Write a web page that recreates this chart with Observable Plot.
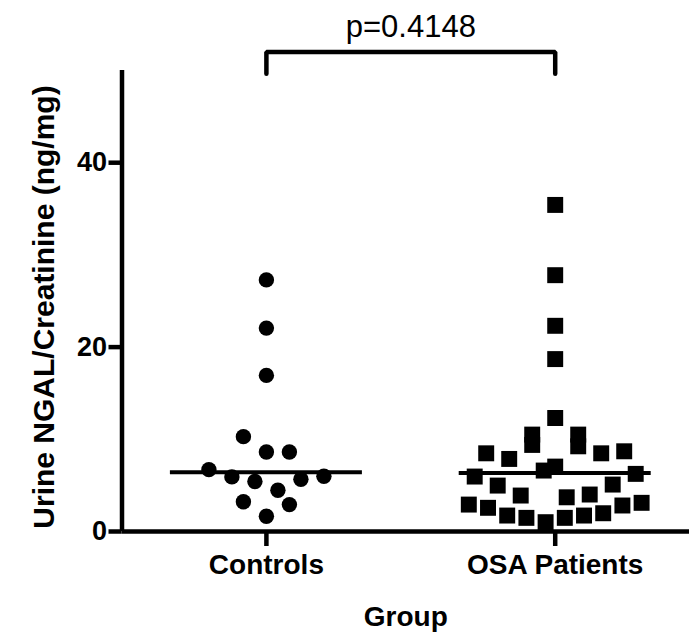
<!DOCTYPE html>
<html>
<head>
<meta charset="utf-8">
<script src="https://cdn.jsdelivr.net/npm/d3@7"></script>
<script src="https://cdn.jsdelivr.net/npm/@observablehq/plot@0.6"></script>
<style>
  html, body { margin: 0; padding: 0; background: #fff; }
</style>
</head>
<body>
<div id="chart"></div>
<script>
// ---------- data ----------
const groups = ["Controls", "OSA Patients"];
const controls = [3.22, 1.66, 2.92, 6.71, 5.92, 5.42, 4.47, 5.66, 5.99, 10.29, 8.63, 8.63, 16.93, 22.06, 27.29];
const osa = [
  2.92, 2.57, 1.73, 1.48, 1.01, 1.48, 1.73, 1.98, 2.82, 3.11,
  5.96, 4.98, 3.90, 6.61, 3.71, 4.01, 5.09, 6.25,
  8.48, 7.87, 9.39, 7.04, 9.24, 8.48, 8.70,
  10.51, 12.31, 10.51,
  18.70, 22.31, 27.80, 35.42
];
const medians = [6.42, 6.35];
const yTicks = [0, 20, 40];
const pValue = "p=0.4148";
const yLabel = "Urine NGAL/Creatinine (ng/mg)";
const xLabel = "Group";

// ---------- layout ----------
const W = 689, H = 639;
const mL = 121.5, mR = 0, mT = 70, mB = 108;
const xDomain = [-0.5, 1.465], yDomain = [0, 50];
const pxPerX = (W - mL - mR) / (xDomain[1] - xDomain[0]);
const rowHeight = 3.5;      // data units per scatter row
const maxStep = 23;         // px between neighbours in a row
const colWidth = 192;       // px width of a column (and of the median line)
const font = "'Liberation Sans', Arial, Helvetica, sans-serif";

// column-scatter layout: points grouped into rows, spread symmetrically
function scatter(values, gi) {
  const rows = d3.group(values, v => Math.floor(v / rowHeight));
  const out = [];
  for (const row of rows.values()) {
    const n = row.length;
    const step = Math.min(maxStep, colWidth / n);
    row.forEach((v, j) => out.push({
      group: groups[gi], value: v,
      x: gi + (j - (n - 1) / 2) * step / pxPerX
    }));
  }
  return out;
}
const ctrlPts = scatter(controls, 0);
const osaPts = scatter(osa, 1);
const medData = medians.map((m, i) => ({i, m}));
const half = colWidth / 2 / pxPerX;

const bracketTop = yDomain[1] + 2;
const bracket = [
  {x: 0, y: yDomain[1] - 0.35},
  {x: 0, y: bracketTop},
  {x: 1, y: bracketTop},
  {x: 1, y: yDomain[1] - 0.35}
];

const SW = 4.5;

const chart = Plot.plot({
  width: W, height: H,
  marginLeft: mL, marginRight: mR, marginTop: mT, marginBottom: mB,
  style: {fontFamily: font, color: "#000", background: "#fff", overflow: "visible"},
  x: {domain: xDomain, axis: null},
  y: {domain: yDomain, axis: null},
  marks: [
    Plot.axisY({ticks: yTicks, tickSize: 13, tickPadding: 2, strokeWidth: SW,
      fontSize: 27, fontWeight: "bold", label: null}),
    Plot.axisX({ticks: [0, 1], tickFormat: i => groups[i], tickSize: 15, tickPadding: 8,
      strokeWidth: SW, fontSize: 28, fontWeight: "bold", label: null}),
    Plot.ruleX([xDomain[0]], {stroke: "#000", strokeWidth: SW}),
    Plot.ruleY([0], {stroke: "#000", strokeWidth: SW}),
    Plot.ruleY(medData, {y: "m", x1: d => d.i - half, x2: d => d.i + half, stroke: "#000", strokeWidth: 4}),
    Plot.dot(ctrlPts, {x: "x", y: "value", r: 7.7, symbol: "circle", fill: "#000", stroke: null}),
    Plot.dot(osaPts, {x: "x", y: "value", r: 9, symbol: "square", fill: "#000", stroke: null}),
    Plot.line(bracket, {x: "x", y: "y", stroke: "#000", strokeWidth: SW, strokeLinejoin: "miter", strokeLinecap: "round", curve: "linear"}),
    Plot.text([pValue], {x: 0.5, y: bracketTop, dy: -25, fontSize: 31, fontWeight: "normal", text: d => d}),
    Plot.text([xLabel], {frameAnchor: "bottom", dy: 94, fontSize: 28, fontWeight: "bold", text: d => d}),
    Plot.text([yLabel], {frameAnchor: "left", textAnchor: "middle", rotate: -90, dx: -78, dy: 6, fontSize: 30, fontWeight: "bold", text: d => d})
  ]
});
document.getElementById("chart").appendChild(chart);
</script>
</body>
</html>
